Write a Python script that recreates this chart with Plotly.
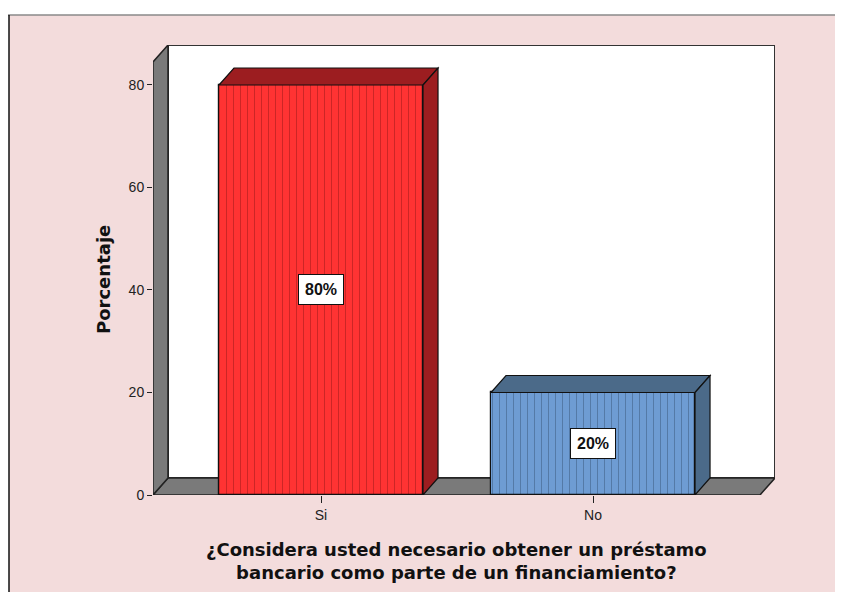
import plotly.graph_objects as go

# ---- data ----
categories = ["Si", "No"]
values = [80, 20]
value_labels = ["80%", "20%"]
y_ticks = [0, 20, 40, 60, 80]
x_title = "¿Considera usted necesario obtener un préstamo<br>bancario como parte de un financiamiento?"
y_title = "Porcentaje"

# ---- styles / geometry ----
OFF = 8                      # page body margin in the browser
W, H = 843 - OFF, 600 - 2 * OFF
ML, MR, MT = 153 - OFF, 68, 45 - OFF
MB = H - MT - 450
front_colors = ["#FF3333", "#6E9CD3"]
shade_colors = ["#9C1D20", "#4B6A89"]
pattern_colors = ["#5a0808", "#1a2d45"]
PINK = "#F3DCDC"
BAR_W = 0.75
DXP, DYP = 15, 17            # 3D depth in pixels
XR = [-0.6176, 1.669]
YR = [0, 87.8]

pw = W - ML - MR
ph = H - MT - MB
dx = DXP * (XR[1] - XR[0]) / pw
dy = DYP * (YR[1] - YR[0]) / ph
xpos = list(range(len(categories)))


def px(x):   # reference pixel x -> paper
    return (x - OFF - ML) / pw


def py(y):   # reference pixel y -> paper
    return (H - MB - (y - OFF)) / ph


fig = go.Figure()
for xc, v, fc, pc in zip(xpos, values, front_colors, pattern_colors):
    fig.add_trace(go.Bar(
        x=[xc], y=[v], width=BAR_W,
        marker=dict(color=fc,
                    line=dict(color="#111111", width=1.2),
                    pattern=dict(shape="|", fgcolor=pc, bgcolor=fc, size=7,
                                 solidity=0.14, fgopacity=0.32, fillmode="replace")),
        hoverinfo="skip", showlegend=False,
    ))

shapes = []
# white page edges outside the pink frame
shapes.append(dict(type="rect", xref="paper", yref="paper",
                   x0=px(0), x1=px(9), y0=py(600), y1=py(0),
                   fillcolor="white", line=dict(width=0), layer="below"))
shapes.append(dict(type="rect", xref="paper", yref="paper",
                   x0=px(0), x1=px(843), y0=py(15), y1=py(0),
                   fillcolor="white", line=dict(width=0), layer="below"))
shapes.append(dict(type="line", xref="paper", yref="paper",
                   x0=px(6), x1=px(843), y0=py(15), y1=py(15),
                   line=dict(color="#8a8a8a", width=1.5), layer="below"))
shapes.append(dict(type="line", xref="paper", yref="paper",
                   x0=px(9), x1=px(9), y0=py(600), y1=py(15),
                   line=dict(color="#111111", width=1.5), layer="below"))

x0f, x1f = XR[0], XR[1] - dx
ytop = YR[1]
# back wall
shapes.append(dict(type="rect", xref="x", yref="y",
                   x0=x0f + dx, x1=XR[1], y0=dy, y1=ytop,
                   fillcolor="white", line=dict(color="#333333", width=2), layer="below"))
# floor
shapes.append(dict(type="path", xref="x", yref="y",
                   path=f"M {x0f},0 L {x1f},0 L {x1f+dx},{dy} L {x0f+dx},{dy} Z",
                   fillcolor="#7a7a7a", line=dict(color="#222222", width=1.5), layer="below"))
# left wall
shapes.append(dict(type="path", xref="x", yref="y",
                   path=f"M {x0f},0 L {x0f+dx},{dy} L {x0f+dx},{ytop} L {x0f},{ytop-dy} Z",
                   fillcolor="#7a7a7a", line=dict(color="#222222", width=1.5), layer="below"))

# bar top and side faces
for xc, v, sc in zip(xpos, values, shade_colors):
    l, r = xc - BAR_W / 2, xc + BAR_W / 2
    shapes.append(dict(type="path", xref="x", yref="y",
                       path=f"M {l},{v} L {r},{v} L {r+dx},{v+dy} L {l+dx},{v+dy} Z",
                       fillcolor=sc, line=dict(color="#111111", width=1.2)))
    shapes.append(dict(type="path", xref="x", yref="y",
                       path=f"M {r},0 L {r},{v} L {r+dx},{v+dy} L {r+dx},{dy} Z",
                       fillcolor=sc, line=dict(color="#111111", width=1.2)))

annotations = []
for xc, v, t in zip(xpos, values, value_labels):
    annotations.append(dict(x=xc, y=v / 2, xref="x", yref="y", text=f"<b>{t}</b>",
                            showarrow=False, bgcolor="white", bordercolor="#111111",
                            borderwidth=1, borderpad=6,
                            font=dict(family="Liberation Sans Narrow, Liberation Sans, Arial",
                                      size=16, color="#111111")))
annotations.append(dict(x=px(456), y=py(561), xref="paper", yref="paper",
                        xanchor="center", yanchor="middle",
                        text=f"<b>{x_title}</b>", showarrow=False, align="center",
                        font=dict(family="DejaVu Sans, Arial", size=18, color="#111111")))
annotations.append(dict(x=px(103), y=py(280), xref="paper", yref="paper",
                        xanchor="center", yanchor="middle",
                        text=f"<b>{y_title}</b>", showarrow=False, textangle=-90,
                        font=dict(family="DejaVu Sans, Arial", size=18, color="#111111")))

fig.update_layout(
    width=W, height=H,
    margin=dict(l=ML, r=MR, t=MT, b=MB, pad=0),
    paper_bgcolor=PINK, plot_bgcolor="rgba(0,0,0,0)",
    shapes=shapes, annotations=annotations, bargap=0,
    font=dict(family="Liberation Sans, Arial", color="#222222"),
    xaxis=dict(range=XR, tickvals=xpos, ticktext=categories, showgrid=False,
               zeroline=False, showline=False, ticks="outside", ticklen=7,
               tickcolor="#222222", tickfont=dict(size=14, color="#222222"), fixedrange=True),
    yaxis=dict(range=YR, tickvals=y_ticks, showgrid=False, zeroline=False,
               showline=False, ticks="outside", ticklen=5, tickcolor="#222222",
               tickfont=dict(size=14, color="#222222"), fixedrange=True),
)

fig.write_html("out.html")
